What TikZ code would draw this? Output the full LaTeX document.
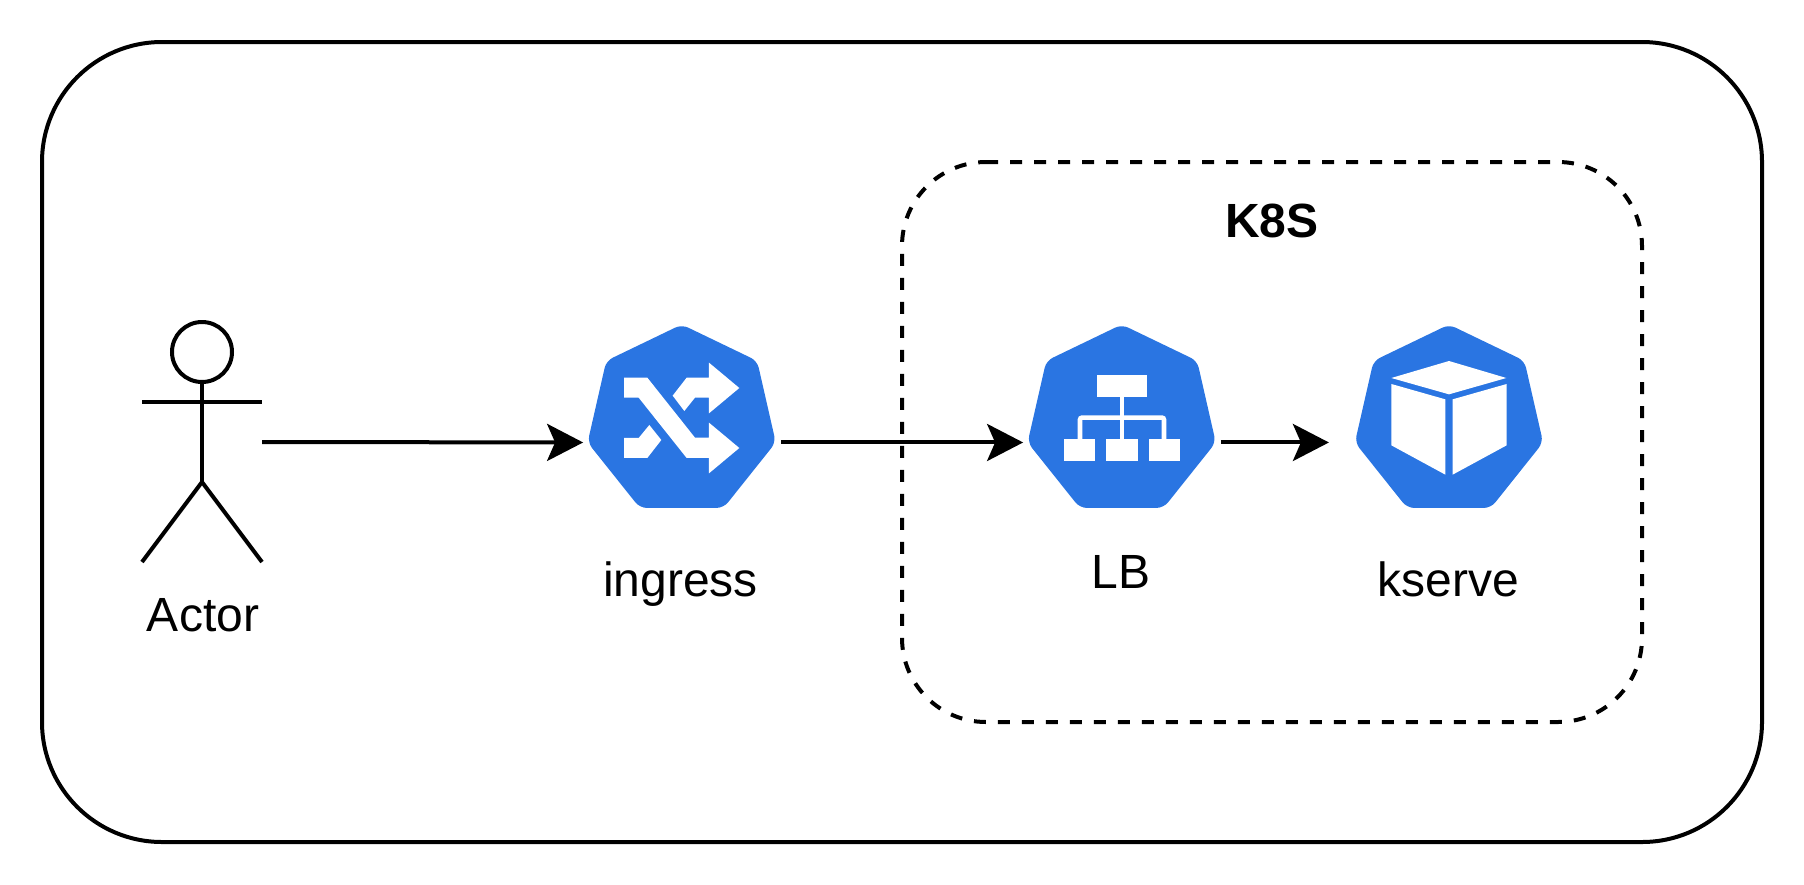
\documentclass[tikz,border=0pt]{standalone}
\usepackage{fontspec}
\setmainfont{Liberation Sans}
\usetikzlibrary{positioning,arrows.meta,shapes.geometric}
\definecolor{kubeblue}{HTML}{2A75E2}

\begin{document}
\begin{tikzpicture}[x=1pt,y=-1pt]
    \tikzstyle{iconlabel}  = [inner sep=0, anchor=base, font=\fontsize{48}{58}\selectfont]
    \tikzstyle{outerframe} = [rectangle, draw, line width=4pt, rounded corners=120pt, minimum width=1720pt, minimum height=800pt]
    \tikzstyle{k8sframe}   = [line width=4pt, dash pattern=on 12pt off 12pt]
    \tikzstyle{kubeicon}   = [regular polygon, regular polygon sides=7, fill=kubeblue, rounded corners=7pt, minimum size=193pt, inner sep=0, outer sep=0]
    \tikzstyle{actorbox}   = [rectangle, minimum width=120pt, minimum height=240pt, inner sep=0, outer sep=0]
    \tikzstyle{flow}       = [line width=4pt, -{Stealth[length=36pt,width=37pt,inset=8pt]}]
    \tikzstyle{stick}      = [draw, line width=4pt]
    \tikzstyle{glyph}      = [fill=white]

    \useasboundingbox (0,0) rectangle (1804,884);

    \node[outerframe] (outer) at (902,442) {};
    \draw[k8sframe] (986,162) -- (1558,162) arc[start angle=270, end angle=360, radius=84]
        -- (1642,638) arc[start angle=0, end angle=90, radius=84]
        -- (986,722) arc[start angle=90, end angle=180, radius=84]
        -- (902,246) arc[start angle=180, end angle=270, radius=84];

    % Icons
    \node[kubeicon] (ingress) at (681.7,421) {};
    \node[kubeicon] (lb) at (1121.7,421) {};
    \node[kubeicon] (kserve) at (1449,421) {};

    \node[actorbox] (actor) at (202,442) {};

    % Actor
    \begin{scope}[shift={(actor.center)}]
        \draw[stick] (0,-90) circle (30);
        \draw[stick] (-60,-40) -- (60,-40);
        \draw[stick] (0,-60) -- (0,40);
        \draw[stick] (-60,120) -- (0,40) -- (60,120);
    \end{scope}

    % Ingress glyph
    \begin{scope}[shift={(560,300)},x=0.3333pt,y=-0.3333pt]
        \fill[glyph] (192,233) -- (262,233) -- (405,413) -- (447,413) -- (447,368) -- (538,444) -- (447,520) -- (447,474) -- (380,474) -- (236,293) -- (192,293) -- cycle;
        \fill[glyph] (338,287) -- (380,233) -- (447,233) -- (447,188) -- (538,264) -- (447,340) -- (447,293) -- (405,293) -- (373,333) -- cycle;
        \fill[glyph] (192,414) -- (236,414) -- (268,375) -- (304,420) -- (262,474) -- (192,474) -- cycle;
    \end{scope}

    % LB glyph
    \begin{scope}[shift={(1000,300)},x=0.3333pt,y=-0.3333pt]
        \fill[glyph] (292,225) rectangle (440,290);
        \fill[glyph] (192,417) rectangle (286,483);
        \fill[glyph] (319,417) rectangle (413,483);
        \fill[glyph] (446,417) rectangle (540,483);
        \draw[white, line width=4.6pt] (366,290) -- (366,417);
        \draw[white, line width=4.6pt, rounded corners=2pt] (240,417) -- (240,353) -- (492,353) -- (492,417);
    \end{scope}

    % Kserve glyph
    \begin{scope}[shift={(1330,300)},x=0.3333pt,y=-0.3333pt]
        \fill[glyph] (184,234) -- (357,183) -- (529,234) -- (357,283) -- cycle;
        \fill[glyph] (184,252) -- (346,298) -- (346,524) -- (184,436) -- cycle;
        \fill[glyph] (368,298) -- (530,252) -- (530,436) -- (368,524) -- cycle;
    \end{scope}

    % Labels
    \node[iconlabel] (actorlabel) at (203,631) {Actor};
    \node[iconlabel] (ingresslabel) at (680.5,596) {ingress};
    \node[iconlabel] (lblabel) at (1121,588) {LB};
    \node[iconlabel] (kservelabel) at (1448,596) {kserve};
    \node[iconlabel, font=\fontsize{48}{58}\selectfont\bfseries] (k8slabel) at (1272,237) {K8S};

    % Connectors
    \draw[flow, shorten >=4.5pt] (actor.east) -- (ingress.corner 3);
    \draw[flow, shorten <=5.5pt, shorten >=4.5pt] (ingress.corner 6) -- (lb.corner 3);
    \draw[flow, shorten <=5pt, shorten >=26pt] (lb.corner 6) -- (kserve.corner 3);
\end{tikzpicture}
\end{document}
